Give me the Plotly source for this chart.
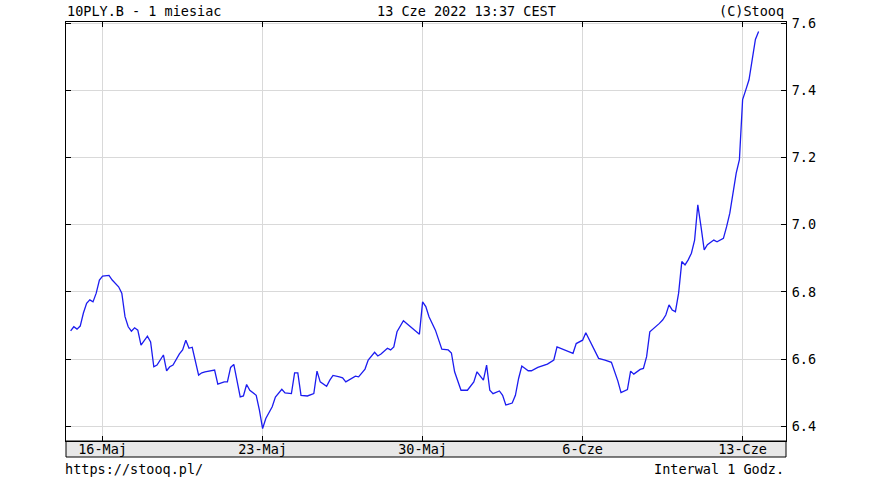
import plotly.graph_objects as go

# hourly session index (10 bars per trading day) and yield values
hour_idx = [0, 1, 2, 3, 4, 5, 6, 7, 8, 9, 10, 12, 13, 15, 16, 17, 18, 19, 20, 21,
            22, 24, 25, 26, 27, 29, 30, 31, 32, 34, 35, 36, 37, 38, 40, 41, 42, 44, 45, 46,
            48, 49, 50, 51, 53, 54, 55, 56, 58, 59, 60, 61, 63, 64, 66, 67, 69, 70, 71, 72,
            74, 76, 77, 78, 80, 81, 82, 84, 85, 86, 88, 89, 90, 92, 93, 95, 96, 97, 99, 100,
            101, 102, 104, 105, 107, 109, 110, 111, 112, 113, 114, 116, 118, 119, 120, 122, 124, 126, 127, 129,
            130, 131, 132, 134, 135, 136, 138, 139, 140, 141, 143, 144, 146, 149, 151, 152, 154, 155, 157, 158,
            160, 161, 163, 165, 167, 169, 171, 172, 174, 175, 176, 178, 179, 180, 181, 183, 184, 185, 186, 187,
            188, 189, 190, 191, 192, 193, 194, 195, 196, 197, 198, 199, 200, 201, 202, 204, 205, 206, 207, 208,
            209, 210, 211, 212, 213, 214, 215]
yield_vals = [6.684, 6.696, 6.689, 6.698, 6.737, 6.766, 6.776, 6.770, 6.796, 6.835, 6.847, 6.849, 6.835, 6.815, 6.796, 6.726, 6.696, 6.683, 6.693, 6.686,
              6.641, 6.668, 6.651, 6.577, 6.582, 6.612, 6.565, 6.577, 6.582, 6.615, 6.627, 6.656, 6.632, 6.635, 6.552, 6.559, 6.562, 6.565, 6.567, 6.525,
              6.532, 6.532, 6.575, 6.584, 6.487, 6.490, 6.524, 6.507, 6.492, 6.448, 6.393, 6.423, 6.458, 6.487, 6.510, 6.499, 6.497, 6.559, 6.559, 6.492,
              6.490, 6.497, 6.564, 6.532, 6.519, 6.537, 6.551, 6.547, 6.544, 6.532, 6.544, 6.549, 6.547, 6.570, 6.597, 6.620, 6.609, 6.615, 6.632, 6.627,
              6.636, 6.681, 6.714, 6.706, 6.691, 6.674, 6.770, 6.756, 6.726, 6.706, 6.686, 6.629, 6.627, 6.618, 6.562, 6.507, 6.507, 6.532, 6.562, 6.537,
              6.582, 6.507, 6.497, 6.505, 6.492, 6.463, 6.469, 6.492, 6.542, 6.579, 6.565, 6.565, 6.575, 6.585, 6.597, 6.636, 6.629, 6.624, 6.617, 6.646,
              6.656, 6.678, 6.641, 6.602, 6.597, 6.590, 6.535, 6.500, 6.509, 6.564, 6.555, 6.569, 6.572, 6.607, 6.681, 6.696, 6.706, 6.716, 6.731, 6.761,
              6.746, 6.741, 6.796, 6.890, 6.880, 6.895, 6.915, 6.954, 7.059, 6.994, 6.925, 6.940, 6.946, 6.954, 6.949, 6.959, 6.994, 7.034, 7.094, 7.153,
              7.193, 7.372, 7.401, 7.431, 7.491, 7.551, 7.575]

x_tick_pos = [10, 60, 110, 160, 210]
x_tick_labels = ["16-Maj", "23-Maj", "30-Maj", "6-Cze", "13-Cze"]
y_tick_vals = [6.4, 6.6, 6.8, 7.0, 7.2, 7.4, 7.6]
y_tick_labels = ["6.4", "6.6", "6.8", "7.0", "7.2", "7.4", "7.6"]

FONT = "DejaVu Sans Mono"
FS = 13.5

W, H = 874, 478
L, T = 66, 22
PW, PH = 720, 419
R = W - L - PW
B = H - T - PH


def px2paper_x(px):
    return (px - L) / PW


def py2paper_y(py):
    return (T + PH - py) / PH


fig = go.Figure()
fig.add_trace(go.Scatter(x=hour_idx, y=yield_vals, mode="lines",
                         line=dict(color="#1c1cf0", width=1.3), hoverinfo="skip"))

fig.update_layout(
    width=W, height=H,
    margin=dict(l=L, r=R, t=T, b=B, autoexpand=False),
    paper_bgcolor="white", plot_bgcolor="white",
    showlegend=False,
    font=dict(family=FONT, size=FS, color="black"),
    xaxis=dict(range=[-1.44, 223.56], tickmode="array", tickvals=x_tick_pos,
               ticktext=x_tick_labels, showgrid=True, gridcolor="#d9d9d9", gridwidth=1,
               zeroline=False, showline=True, linecolor="black", linewidth=1,
               mirror="ticks", ticks="inside", ticklen=5, tickcolor="black",
               tickfont=dict(family=FONT, size=FS, color="black"), ticklabelstandoff=-4),
    yaxis=dict(range=[6.356, 7.603], side="right", tickmode="array", tickvals=y_tick_vals,
               ticktext=y_tick_labels, showgrid=True, gridcolor="#d9d9d9", gridwidth=1,
               zeroline=False, showline=True, linecolor="black", linewidth=1,
               mirror="ticks", ticks="inside", ticklen=5, tickcolor="black",
               tickfont=dict(family=FONT, size=FS, color="black"), ticklabelstandoff=2),
)

# gray strip for date labels under the plot
fig.add_shape(type="rect", xref="paper", yref="paper",
              x0=0, x1=1, y0=py2paper_y(457), y1=0,
              fillcolor="#e8e8e8", line=dict(color="black", width=1), layer="below")

anns = [
    dict(text="10PLY.B - 1 miesiac", x=px2paper_x(65), y=py2paper_y(10.5), xanchor="left"),
    dict(text="13 Cze 2022 13:37 CEST", x=px2paper_x(466), y=py2paper_y(10.5), xanchor="center"),
    dict(text="(C)Stooq", x=px2paper_x(786), y=py2paper_y(10.5), xanchor="right"),
    dict(text="https://stooq.pl/", x=px2paper_x(63), y=py2paper_y(468.5), xanchor="left"),
    dict(text="Interwal 1 Godz.", x=px2paper_x(786), y=py2paper_y(468.5), xanchor="right"),
]
for a in anns:
    fig.add_annotation(xref="paper", yref="paper", showarrow=False, yanchor="middle",
                       font=dict(family=FONT, size=FS, color="black"), **a)

fig.write_html("out.html", config={"displayModeBar": False},
               post_script="document.body.style.margin='0';document.body.style.overflow='hidden';")
